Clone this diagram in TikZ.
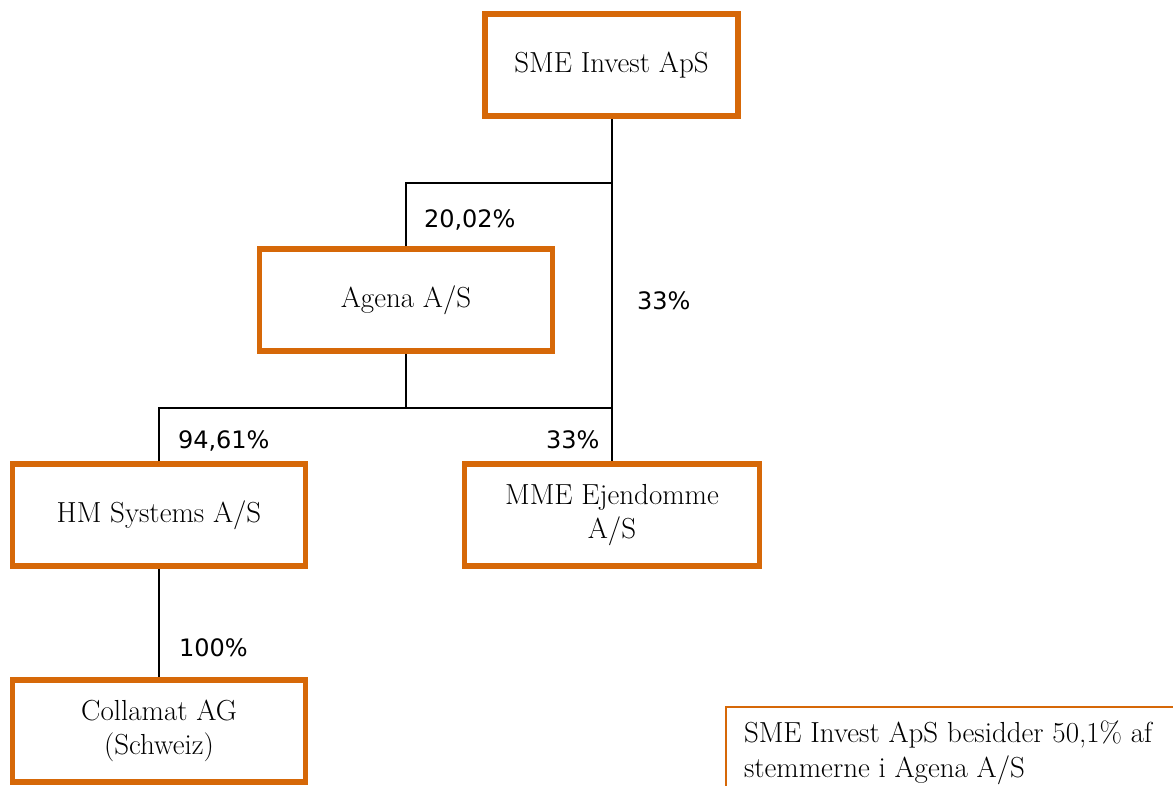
\documentclass[tikz,border=0pt]{standalone}
\usepackage{fontspec}
\newfontfamily\sharefont{DejaVu Sans}
\definecolor{boxorange}{RGB}{214,104,8}
\tikzset{
  company/.style={draw=boxorange, line width=5.5pt, inner sep=0pt, minimum height=102,
    align=center, font=\fontsize{29}{34}\selectfont},
  share/.style={anchor=base west, inner sep=0pt, font=\sharefont\fontsize{24}{28}\selectfont}
}

\begin{document}
\begin{tikzpicture}[x=1pt, y=-1pt, line width=2pt]
    \useasboundingbox (0,0) rectangle (1173,785);
% Companies
    \node[company, minimum width=253] (sme) at (611.5,65) {SME Invest ApS};
    \node[company, minimum width=293] (agena) at (406,300) {Agena A/S};
    \node[company, minimum width=293] (hm) at (159,515) {HM Systems A/S};
    \node[company, minimum width=295] (mme) at (612,515) {MME Ejendomme\\A/S};
    \node[company, minimum width=293] (collamat) at (159,731) {Collamat AG\\(Schweiz)};
% Ownership lines
    \coordinate (splittop) at (611,183);
    \coordinate (splitmid) at (611,408);
    \draw (sme.south) -- (sme.south |- mme.north);
    \draw (agena.north) |- (splittop);
    \draw (agena.south) -- (agena.south |- splitmid);
    \draw (hm.north) |- (splitmid);
    \draw (hm.south) -- (collamat.north);
% Shares
    \node[share] (pagena) at (423,227) {20,02\%};
    \node[share] (pmmetop) at (636,309) {33\%};
    \node[share] (phm) at (177,448) {94,61\%};
    \node[share] (pmme) at (545,448) {33\%};
    \node[share] (pcollamat) at (178,656) {100\%};
% Note
    \draw[boxorange] (726,707) rectangle (1200,820);
    \node[anchor=base west, inner sep=0pt, align=left, font=\fontsize{29}{35}\selectfont]
      (note) at (743,777) {SME Invest ApS besidder 50,1\% af\\stemmerne i Agena A/S};
\end{tikzpicture}
\end{document}
